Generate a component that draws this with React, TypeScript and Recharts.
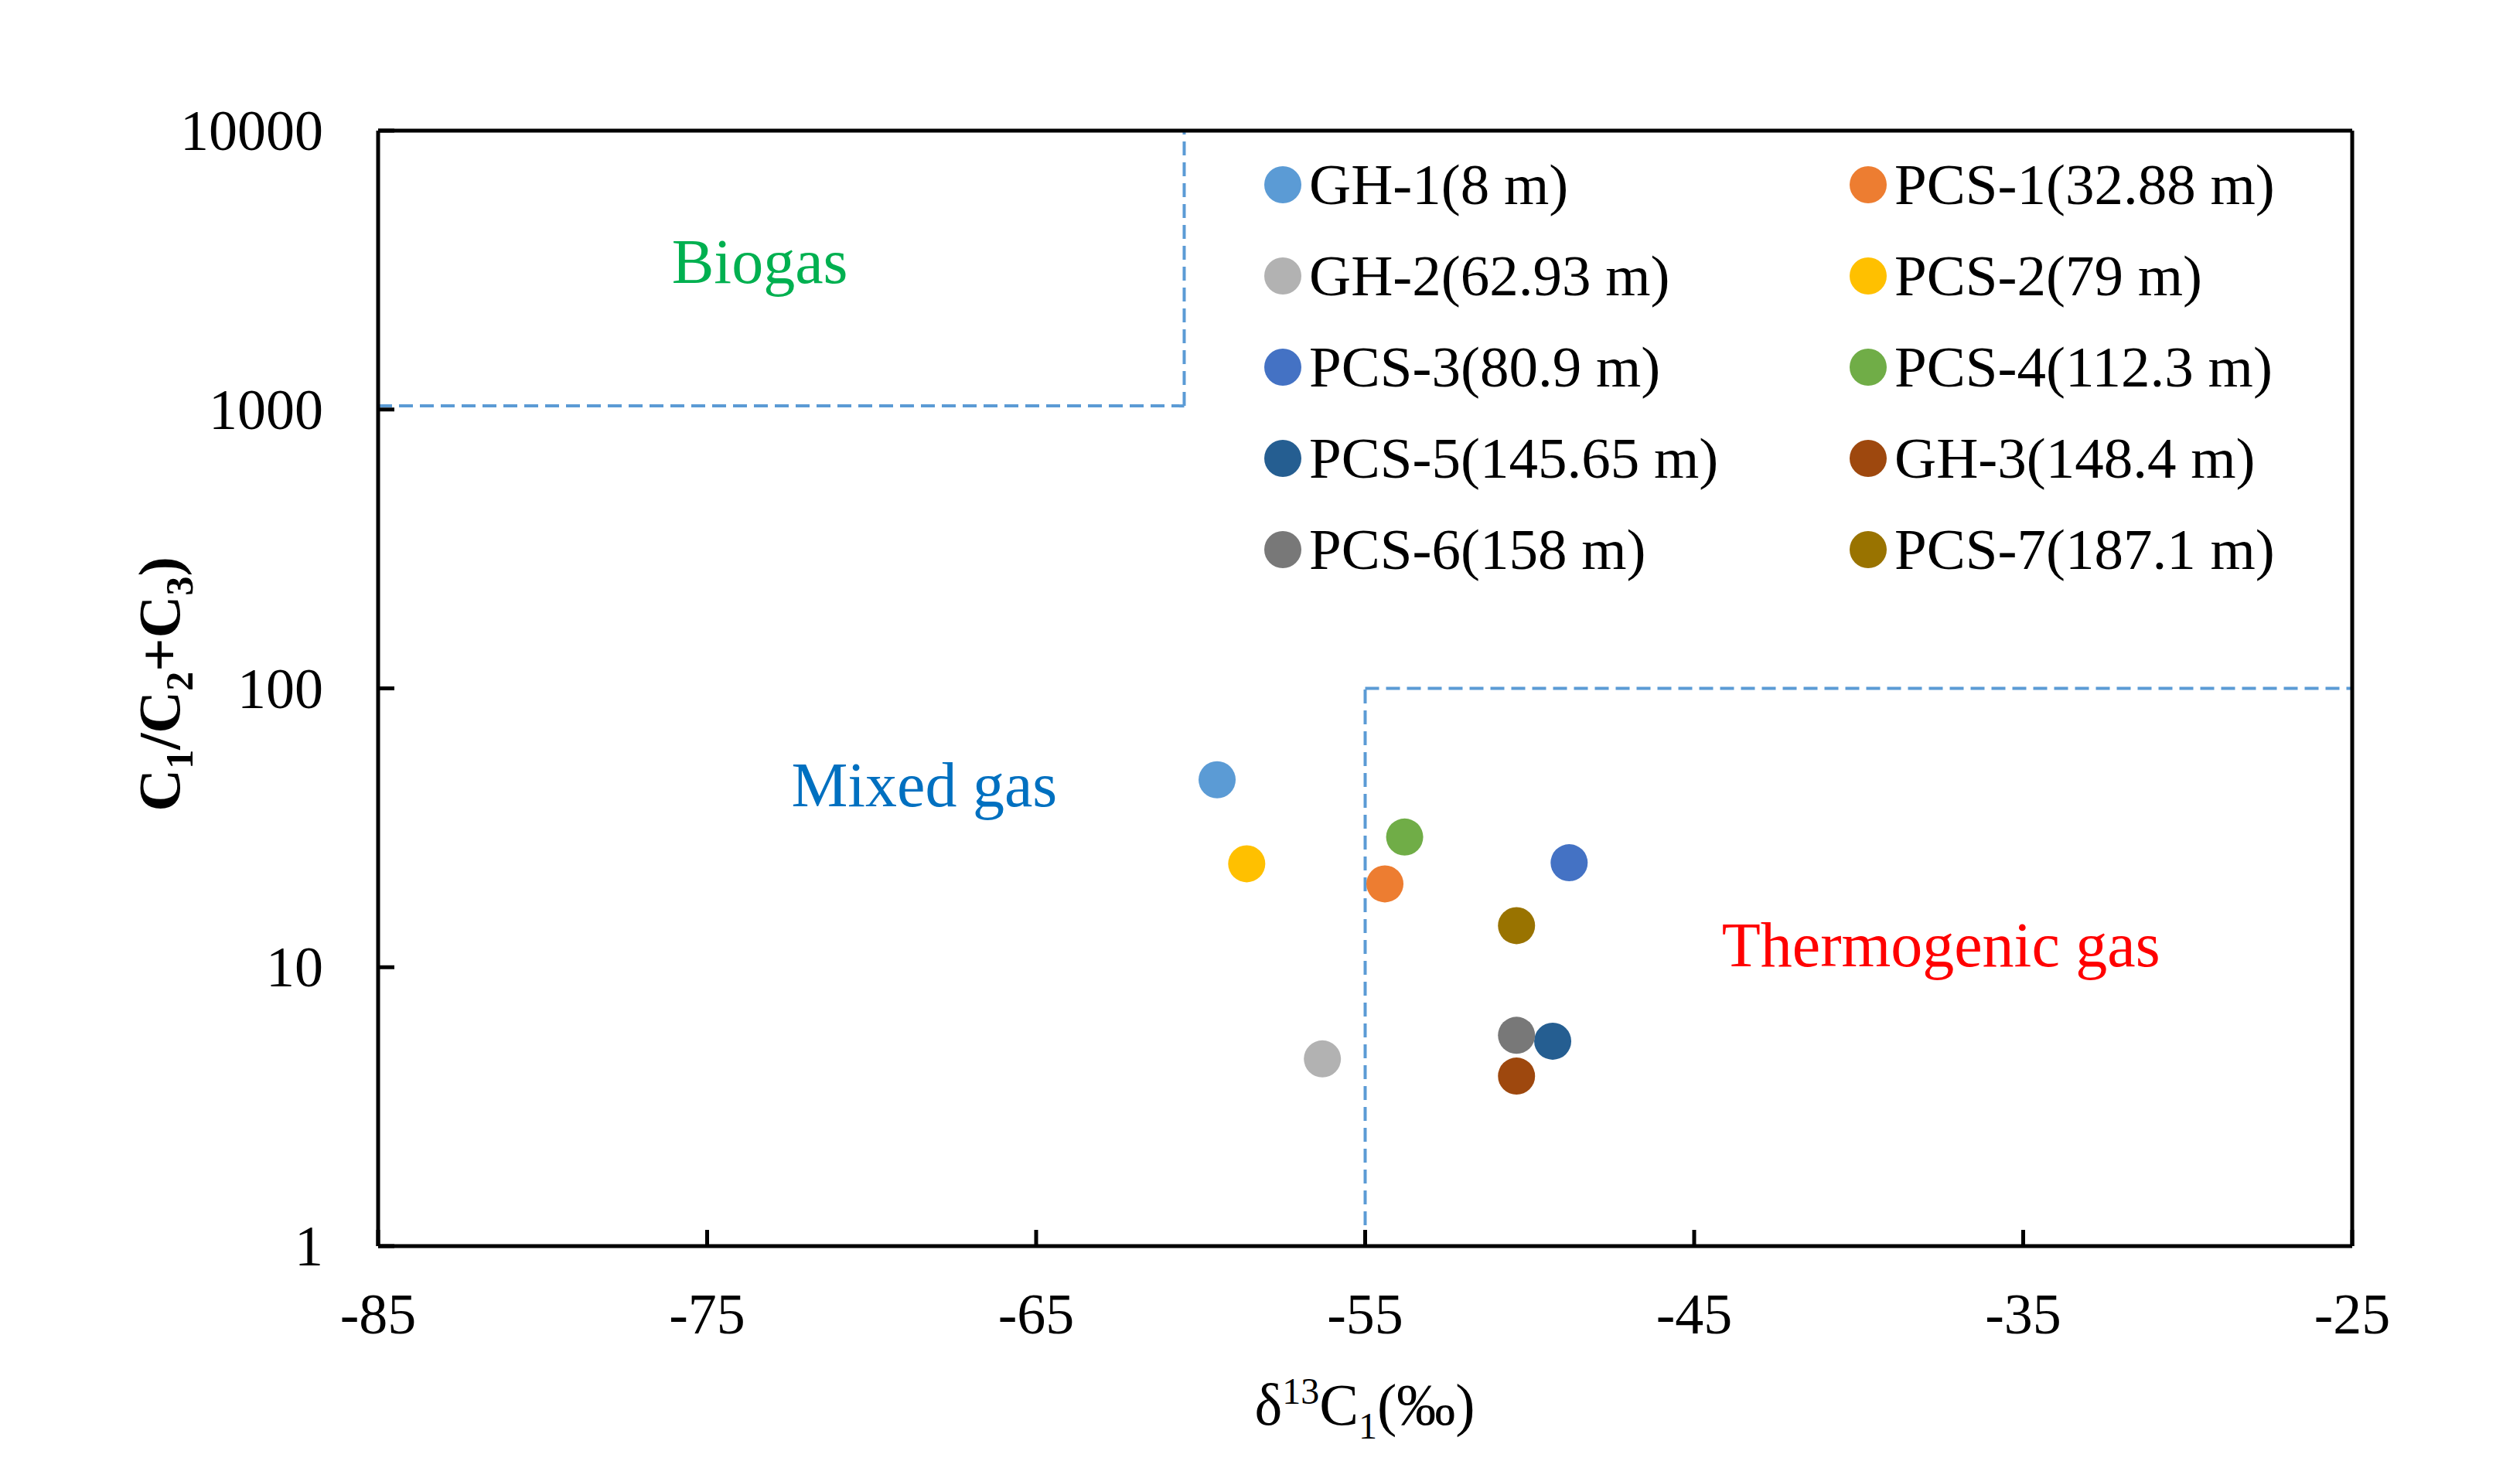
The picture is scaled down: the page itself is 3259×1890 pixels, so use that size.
import React from 'react';
import { ScatterChart, Scatter, XAxis, YAxis, ReferenceLine, ReferenceDot, Legend } from 'recharts';

const FONT = '"Liberation Serif", "Times New Roman", serif';

// samples in legend order (by depth)
const sampleNames = [
  'GH-1(8 m)', 'PCS-1(32.88 m)', 'GH-2(62.93 m)', 'PCS-2(79 m)', 'PCS-3(80.9 m)',
  'PCS-4(112.3 m)', 'PCS-5(145.65 m)', 'GH-3(148.4 m)', 'PCS-6(158 m)', 'PCS-7(187.1 m)',
];
const delta13C1 = [-59.5, -54.4, -56.3, -58.6, -48.8, -53.8, -49.3, -50.4, -50.4, -50.4];
const c1Ratio = [47.0, 19.9, 4.69, 23.5, 23.7, 29.3, 5.43, 4.07, 5.7, 14.1];
const sampleColors = [
  '#5B9BD5', '#ED7D31', '#B2B2B2', '#FFC000', '#4472C4',
  '#70AD47', '#255E91', '#9E480E', '#787878', '#997300',
];

const xTicks = [-85, -75, -65, -55, -45, -35, -25];
const yTicks = [1, 10, 100, 1000, 10000];

// genetic zone boundaries
const biogasBoundary = [{ x: -85, y: 1030 }, { x: -60.5, y: 1030 }, { x: -60.5, y: 10000 }];
const thermoBoundary = [{ x: -55, y: 1 }, { x: -55, y: 100 }, { x: -25, y: 100 }];

const zoneNames = ['Biogas', 'Mixed gas', 'Thermogenic gas'];
const zoneX = [-73.4, -68.4, -37.5];
const zoneY = [3420, 45.5, 12.1];
const zoneColors = ['#00B050', '#0070C0', '#FF0000'];

const series = sampleNames.map((name, i) => ({
  name,
  color: sampleColors[i],
  points: [{ x: delta13C1[i], y: c1Ratio[i] }],
}));

const toSegments = (pts: { x: number; y: number }[]) =>
  pts.slice(1).map((p, i) => [pts[i], p]);

const XTick = (props: any) => {
  const { x, y, payload } = props;
  return (
    <g>
      <line x1={x} y1={y} x2={x} y2={y - 21} stroke="#000" strokeWidth={5} />
      <text x={x} y={y + 113} textAnchor="middle" fontSize={74} fontFamily={FONT} fill="#000">
        {payload.value}
      </text>
    </g>
  );
};

const YTick = (props: any) => {
  const { x, y, payload } = props;
  return (
    <g>
      <line x1={x} y1={y} x2={x + 21} y2={y} stroke="#000" strokeWidth={5} />
      <text x={x - 71} y={y + 25} textAnchor="end" fontSize={74} fontFamily={FONT} fill="#000">
        {payload.value}
      </text>
    </g>
  );
};

const Dot = (props: any) => <circle cx={props.cx} cy={props.cy} r={24} fill={props.fill} />;

// keep the legend in depth order (Recharts sorts its payload by name)
const renderLegend = () => (
  <div style={{ display: 'grid', gridTemplateColumns: '757px 757px' }}>
    {series.map((s) => (
      <div
        key={s.name}
        style={{
          display: 'flex',
          alignItems: 'center',
          height: 118,
          lineHeight: '118px',
          fontFamily: FONT,
          fontSize: 75,
          color: '#000',
          whiteSpace: 'nowrap',
        }}
      >
        <span
          style={{
            width: 48,
            height: 48,
            borderRadius: '50%',
            background: s.color,
            marginRight: 10,
            flex: 'none',
          }}
        />
        {s.name}
      </div>
    ))}
  </div>
);

export default function App() {
  return (
    <div style={{ width: 3243, height: 1874, background: '#fff' }}>
      <ScatterChart width={3243} height={1874} margin={{ top: 161, right: 209, bottom: 170, left: 381 }}>
        <XAxis
          type="number"
          dataKey="x"
          domain={[-85, -25]}
          ticks={xTicks}
          allowDataOverflow
          height={100}
          tickSize={0}
          tickMargin={0}
          tickLine={false}
          axisLine={{ stroke: '#000', strokeWidth: 5 }}
          tick={<XTick />}
          interval={0}
        />
        <YAxis
          type="number"
          dataKey="y"
          scale="log"
          domain={[1, 10000]}
          ticks={yTicks}
          allowDataOverflow
          width={100}
          tickSize={0}
          tickMargin={0}
          tickLine={false}
          axisLine={{ stroke: '#000', strokeWidth: 5 }}
          tick={<YTick />}
          interval={0}
        />
        {[...toSegments(biogasBoundary), ...toSegments(thermoBoundary)].map((seg, i) => (
          <ReferenceLine
            key={`b${i}`}
            segment={seg}
            stroke="#5B9BD5"
            strokeWidth={4}
            strokeDasharray="18 9"
            ifOverflow="visible"
          />
        ))}
        <ReferenceLine y={10000} stroke="#000" strokeWidth={5} />
        <ReferenceLine x={-25} stroke="#000" strokeWidth={5} />
        {zoneNames.map((name, i) => (
          <ReferenceDot
            key={name}
            x={zoneX[i]}
            y={zoneY[i]}
            r={0}
            fill="none"
            stroke="none"
            label={{ value: name, position: 'center', fill: zoneColors[i], fontSize: 82, fontFamily: FONT }}
          />
        ))}
        {series.map((s) => (
          <Scatter
            key={s.name}
            name={s.name}
            data={s.points}
            fill={s.color}
            shape={<Dot />}
            isAnimationActive={false}
          />
        ))}
        <Legend
          layout="vertical"
          align="center"
          verticalAlign="middle"
          content={renderLegend}
          wrapperStyle={{ top: 172, left: 1627, width: 1514 }}
        />
        <text x={1757} y={1835} textAnchor="middle" fontSize={76} fontFamily={FONT} fill="#000">
          δ
          <tspan fontSize={48} dy={-27}>13</tspan>
          <tspan fontSize={76} dy={27}>C</tspan>
          <tspan fontSize={48} dy={18}>1</tspan>
          <tspan fontSize={76} dy={-18}>(‰)</tspan>
        </text>
        <text
          transform="translate(224,877) rotate(-90)"
          textAnchor="middle"
          fontSize={76}
          fontWeight="bold"
          fontFamily={FONT}
          fill="#000"
        >
          C
          <tspan fontSize={50} dy={17}>1</tspan>
          <tspan fontSize={76} dy={-17}>/C</tspan>
          <tspan fontSize={50} dy={17}>2</tspan>
          <tspan fontSize={76} dy={-17}>+C</tspan>
          <tspan fontSize={50} dy={17}>3</tspan>
          <tspan fontSize={76} dy={-17}>)</tspan>
        </text>
      </ScatterChart>
    </div>
  );
}
